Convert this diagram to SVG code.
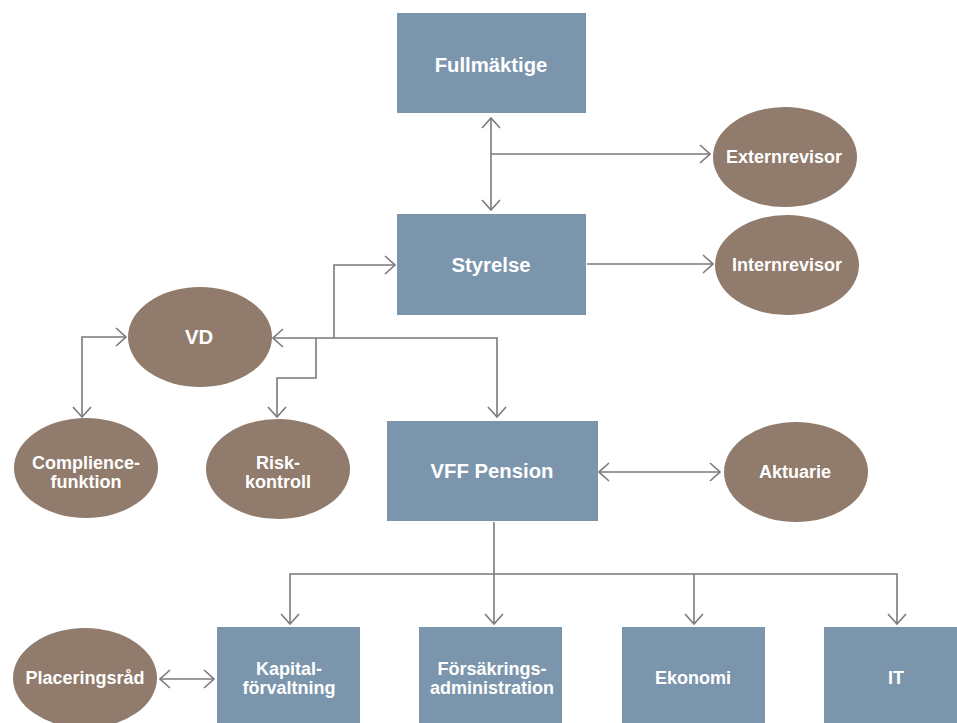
<svg xmlns="http://www.w3.org/2000/svg" width="957" height="723" viewBox="0 0 957 723">
<defs>
<style>
.box{fill:#7b95ad}
.ell{fill:#907b6c}
.t{font-family:"Liberation Sans",Arial,sans-serif;font-weight:bold;fill:#fff;text-anchor:middle}
.big{font-size:20.3px}
.sm{font-size:18px}
.c{fill:none;stroke:#7a7a7a;stroke-width:1.6}
</style>
<marker id="ah" viewBox="0 0 12 20" refX="11" refY="10" markerWidth="12" markerHeight="20" markerUnits="userSpaceOnUse" orient="auto-start-reverse">
<path d="M1,1 L11,10 L1,19" fill="none" stroke="#7a7a7a" stroke-width="1.6"/>
</marker>
</defs>
<rect width="957" height="723" fill="#fff"/>
<g id="connectors">
<path class="c" d="M491,118 V210" marker-start="url(#ah)" marker-end="url(#ah)"/>
<path class="c" d="M491,154 H710" marker-end="url(#ah)"/>
<path class="c" d="M587,264 H713" marker-end="url(#ah)"/>
<path class="c" d="M334,338 V265 H395" marker-end="url(#ah)"/>
<path class="c" d="M273,338 H497 V417" marker-start="url(#ah)" marker-end="url(#ah)"/>
<path class="c" d="M316,338 V378 H277 V417" marker-end="url(#ah)"/>
<path class="c" d="M126,337 H82 V417" marker-start="url(#ah)" marker-end="url(#ah)"/>
<path class="c" d="M599,472 H720" marker-start="url(#ah)" marker-end="url(#ah)"/>
<path class="c" d="M494,522 V624"  marker-end="url(#ah)"/>
<path class="c" d="M290,624 V574 H897 V624" marker-start="url(#ah)" marker-end="url(#ah)"/>
<path class="c" d="M694,574 V624" marker-end="url(#ah)"/>
<path class="c" d="M160,679 H214" marker-start="url(#ah)" marker-end="url(#ah)"/>
</g>
<g id="fullmaktige"><rect class="box" x="397" y="13" width="189" height="100"/><text class="t big" x="491" y="72">Fullmäktige</text></g>
<g id="styrelse"><rect class="box" x="397" y="214" width="189" height="101"/><text class="t big" x="491" y="272">Styrelse</text></g>
<g id="externrevisor"><ellipse class="ell" cx="785" cy="157" rx="72" ry="50"/><text class="t sm" x="784" y="163">Externrevisor</text></g>
<g id="internrevisor"><ellipse class="ell" cx="787" cy="265" rx="72" ry="50"/><text class="t sm" x="787" y="271">Internrevisor</text></g>
<g id="vd"><ellipse class="ell" cx="200" cy="337" rx="72" ry="50"/><text class="t big" x="199" y="344">VD</text></g>
<g id="compliencefunktion"><ellipse class="ell" cx="86" cy="468" rx="72" ry="50"/><text class="t sm" x="86" y="469">Complience-</text><text class="t sm" x="86" y="488">funktion</text></g>
<g id="riskkontroll"><ellipse class="ell" cx="278" cy="469" rx="72" ry="50"/><text class="t sm" x="278" y="469">Risk-</text><text class="t sm" x="278" y="488">kontroll</text></g>
<g id="vffpension"><rect class="box" x="387" y="421" width="211" height="100"/><text class="t big" x="492" y="478">VFF Pension</text></g>
<g id="aktuarie"><ellipse class="ell" cx="796" cy="472" rx="72" ry="50"/><text class="t sm" x="795" y="478">Aktuarie</text></g>
<g id="placeringsrad"><ellipse class="ell" cx="85" cy="678" rx="72" ry="50"/><text class="t sm" x="85" y="684">Placeringsråd</text></g>
<g id="kapitalforvaltning"><rect class="box" x="217" y="627" width="143" height="100"/><text class="t sm" x="289" y="675">Kapital-</text><text class="t sm" x="289" y="694">förvaltning</text></g>
<g id="forsakringsadministration"><rect class="box" x="419" y="627" width="143" height="100"/><text class="t sm" x="492" y="675">Försäkrings-</text><text class="t sm" x="492" y="694">administration</text></g>
<g id="ekonomi"><rect class="box" x="622" y="627" width="143" height="100"/><text class="t sm" x="693" y="684">Ekonomi</text></g>
<g id="it"><rect class="box" x="824" y="627" width="143" height="100"/><text class="t sm" x="896" y="684">IT</text></g>
</svg>
